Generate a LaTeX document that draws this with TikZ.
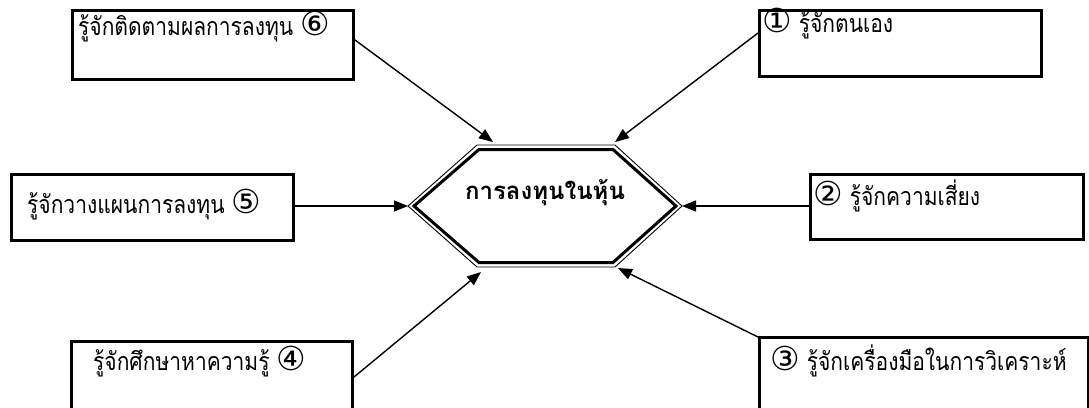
\documentclass[tikz,border=0pt]{standalone}
\usepackage{fontspec}
\newfontfamily\thaifont[Script=Thai, FakeStretch=0.84]{Loma}
\newfontfamily\thaititle[Script=Thai]{Loma}
\newfontfamily\circfont{DejaVu Sans}
\newcommand{\circnum}[1]{{\circfont\fontsize{33}{33}\selectfont #1}}
\usetikzlibrary{arrows.meta, positioning}
\begin{document}
\begin{tikzpicture}[
  x=1pt, y=-1pt, >={Triangle[length=14pt, width=11pt]},
  font=\thaifont\fontsize{25}{28}\selectfont,
  stepbox/.style={draw, line width=3pt, inner sep=0pt},
  boxtext/.style={anchor=base west, inner sep=0pt},
  myarrow/.style={->, line width=1.4pt},
  hexthin/.style={line width=0.9pt},
  hexthick/.style={line width=3pt},
]
\useasboundingbox (0,0) rectangle (1089,407);
% --- Centre hexagon ---
\draw[hexthin] (408,206) -- (477,145) -- (615,145) -- (682,206) -- (615,267) -- (477,267) -- cycle;
\draw[hexthick] (414,206) -- (479,149.5) -- (613,149.5) -- (676,206) -- (613,262.5) -- (479,262.5) -- cycle;
\coordinate (hl) at (408,206);
\coordinate (hr) at (682,206);
\coordinate (htl) at (493,142);
\coordinate (htr) at (615,142);
\coordinate (hbl) at (481,272);
\coordinate (hbr) at (618,268);
\node[font=\thaititle\bfseries\fontsize{24}{26}\selectfont] (invest) at (545,193) {การลงทุนในหุ้น};
% --- Boxes ---
\node[stepbox, minimum width=281pt, minimum height=69pt, anchor=north west] (b6) at (71,9) {};
\node[stepbox, minimum width=282pt, minimum height=66pt, anchor=north west] (b1) at (758,9) {};
\node[stepbox, minimum width=282pt, minimum height=66pt, anchor=north west] (b5) at (10,173) {};
\node[stepbox, minimum width=273pt, minimum height=65pt, anchor=north west] (b2) at (809,173) {};
\node[stepbox, minimum width=281pt, minimum height=70pt, anchor=north west] (b4) at (70,340) {};
\node[stepbox, minimum width=329pt, minimum height=72pt, anchor=north west] (b3) at (758,336) {};
% --- Box texts ---
\node[boxtext] (t6) at (78,35) {รู้จักติดตามผลการลงทุน \circnum{⑥}};
\node[boxtext] (t1) at (762,32) {\circnum{①} รู้จักตนเอง};
\node[boxtext] (t5) at (27,213) {รู้จักวางแผนการลงทุน \circnum{⑤}};
\node[boxtext] (t2) at (813,205) {\circnum{②} รู้จักความเสี่ยง};
\node[boxtext] (t4) at (93,370) {รู้จักศึกษาหาความรู้ \circnum{④}};
\node[boxtext] (t3) at (770,370) {\circnum{③} รู้จักเครื่องมือในการวิเคราะห์};
% --- Connectors ---
\draw[myarrow] (b6.east |- 0,40) -- (htl);
\draw[myarrow] (b1.west |- 0,33) -- (htr);
\draw[myarrow] (b5.east |- hl) -- (hl);
\draw[myarrow] (b2.west |- hr) -- (hr);
\draw[myarrow] (b4.east |- 0,377) -- (hbl);
\draw[myarrow] (b3.west |- 0,337) -- (hbr);
\end{tikzpicture}
\end{document}
